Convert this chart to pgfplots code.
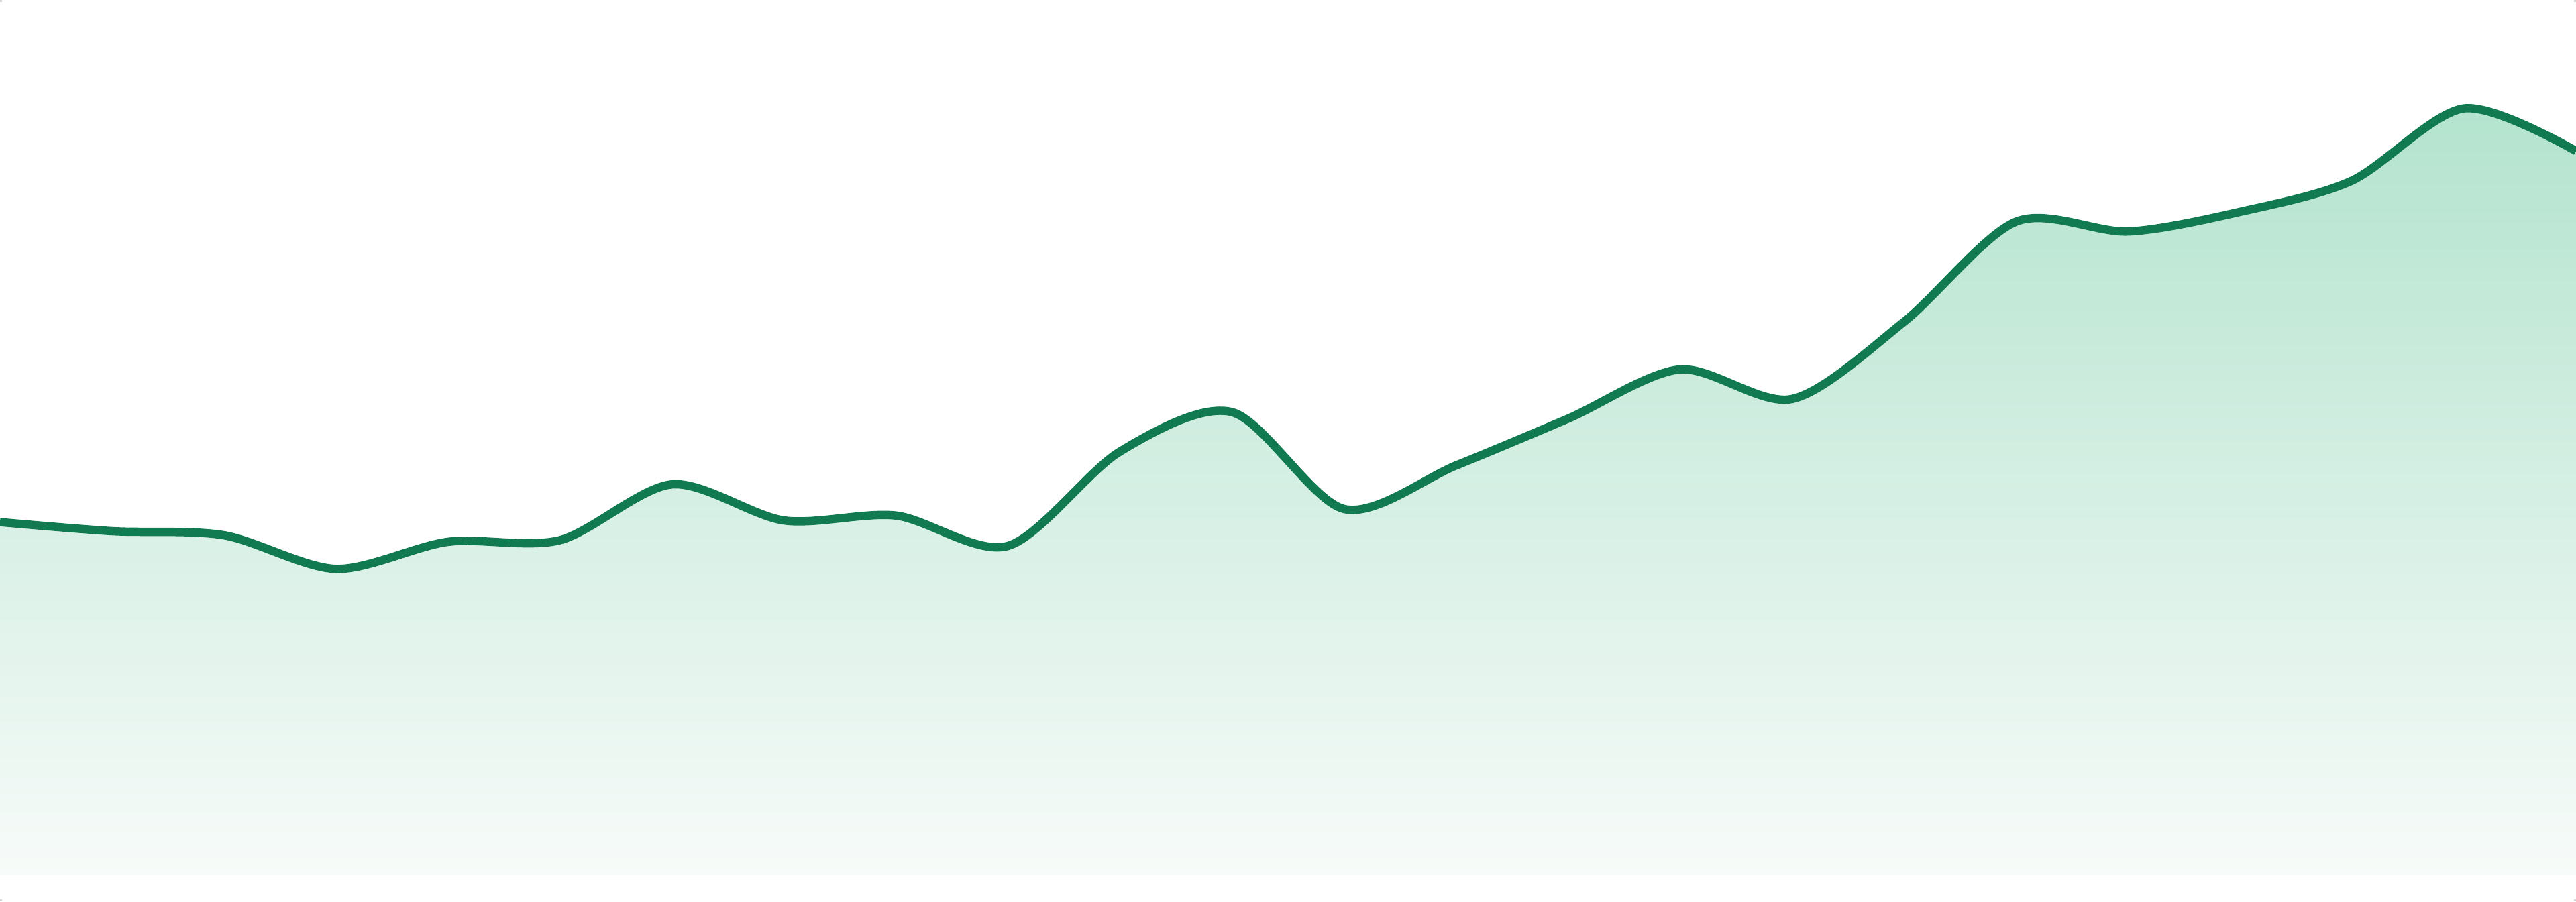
\documentclass[border=0pt]{standalone}
\usepackage{pgfplots}
\pgfplotsset{compat=1.18}
\usepackage{pgfplotstable}

\definecolor{lineGreen}{RGB}{18,122,80}
\definecolor{fillTop}{RGB}{179,227,206}
\definecolor{fillBot}{RGB}{247,251,249}
\definecolor{cornerMark}{RGB}{210,210,210}

% one value per step
\pgfplotstableread{
x   y
0   215
1   209.5
2   207
3   186.5
4   203
5   204
6   238
7   216
8   219
9   200.5
10  258
11  282
12  223
13  249.5
14  278
15  308
16  290
17  337
18  398
19  392
20  404
21  423
22  467
23  441
}\series

\begin{document}
\begin{tikzpicture}
\begin{axis}[
    at={(0,0)}, anchor=south west,
    scale only axis,
    width=20cm,
    height=7cm,
    xmin=0, xmax=23,
    ymin=-16, ymax=533,
    hide axis,
]
\addplot[draw=none, top color=fillTop, bottom color=fillBot, smooth, tension=0.5]
    table[x=x,y=y] {\series} \closedcycle;
\addplot[lineGreen, line width=1.85pt, smooth, tension=0.5]
    table[x=x,y=y] {\series};
\end{axis}
% tiny corner dots so the page keeps the full frame
\fill[cornerMark] (0,0) rectangle (0.4pt,0.4pt);
\fill[cornerMark] (0,7cm) rectangle (0.4pt,{7cm-0.4pt});
\fill[cornerMark] (20cm,7cm) rectangle ({20cm-0.4pt},{7cm-0.4pt});
\fill[cornerMark] (20cm,0) rectangle ({20cm-0.4pt},0.4pt);
\end{tikzpicture}
\end{document}
